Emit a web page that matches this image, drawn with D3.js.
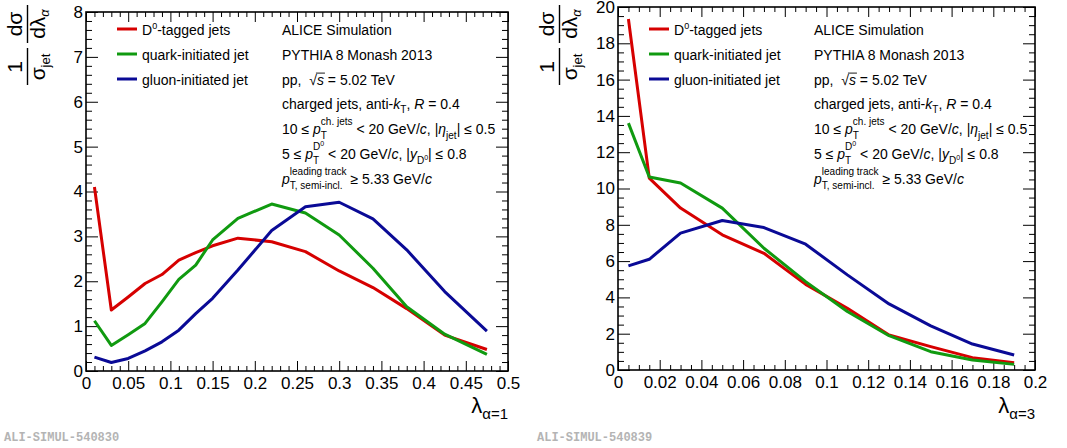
<!DOCTYPE html>
<html>
<head>
<meta charset="utf-8">
<script src="https://cdn.jsdelivr.net/npm/d3@7"></script>
<style>
  body { margin: 0; background: #fff; }
  text { font-family: "Liberation Sans", Arial, Helvetica, sans-serif; fill: #000; white-space: pre; }
</style>
</head>
<body>
<svg id="chart" width="1067" height="448"></svg>
<script>
// lambda(alpha=1) distributions
var lam1Bins = [0.01, 0.03, 0.05, 0.07, 0.09, 0.11, 0.13, 0.15, 0.18, 0.22, 0.26, 0.30, 0.34, 0.38, 0.425, 0.475];
var lam1D0 = [4.10, 1.36, 1.65, 1.95, 2.15, 2.47, 2.64, 2.79, 2.96, 2.88, 2.66, 2.23, 1.86, 1.39, 0.80, 0.48];
var lam1Quark = [1.12, 0.57, 0.81, 1.06, 1.54, 2.04, 2.36, 2.92, 3.40, 3.72, 3.52, 3.03, 2.29, 1.43, 0.82, 0.37];
var lam1Gluon = [0.31, 0.19, 0.28, 0.45, 0.65, 0.91, 1.28, 1.62, 2.25, 3.13, 3.66, 3.76, 3.39, 2.70, 1.77, 0.89];

// lambda(alpha=3) distributions
var lam3Bins = [0.005, 0.015, 0.03, 0.05, 0.07, 0.09, 0.11, 0.13, 0.15, 0.17, 0.19];
var lam3D0 = [19.34, 10.57, 8.92, 7.45, 6.43, 4.72, 3.40, 1.93, 1.29, 0.68, 0.40];
var lam3Quark = [13.6, 10.63, 10.3, 8.92, 6.71, 4.87, 3.22, 1.89, 1.01, 0.55, 0.31];
var lam3Gluon = [5.74, 6.10, 7.54, 8.24, 7.85, 6.93, 5.24, 3.64, 2.43, 1.43, 0.83];

var lam1XTicks = [0, 0.05, 0.1, 0.15, 0.2, 0.25, 0.3, 0.35, 0.4, 0.45, 0.5];
var lam1YTicks = [0, 1, 2, 3, 4, 5, 6, 7, 8];
var lam3XTicks = [0, 0.02, 0.04, 0.06, 0.08, 0.1, 0.12, 0.14, 0.16, 0.18, 0.2];
var lam3YTicks = [0, 2, 4, 6, 8, 10, 12, 14, 16, 18, 20];

var seriesColors = ['#d60000', '#109a10', '#0a0a96'];
var watermarks = ['ALI-SIMUL-540830', 'ALI-SIMUL-540839'];

var svg = d3.select('#chart');

drawPanel({
  left: 86, right: 508, top: 12, bottom: 371,
  xTicks: lam1XTicks, xMinor: 0.01, yTicks: lam1YTicks, yMinor: 0.2,
  bins: lam1Bins, series: [lam1D0, lam1Quark, lam1Gluon],
  xSub: 'α=1', mark: watermarks[0], markX: 4
});

drawPanel({
  left: 618, right: 1035, top: 7, bottom: 370,
  xTicks: lam3XTicks, xMinor: 0.005, yTicks: lam3YTicks, yMinor: 0.5,
  bins: lam3Bins, series: [lam3D0, lam3Quark, lam3Gluon],
  xSub: 'α=3', mark: watermarks[1], markX: 537
});

function drawPanel(p) {
  var xDom = d3.extent(p.xTicks);
  var yDom = d3.extent(p.yTicks);
  var x = d3.scaleLinear().domain(xDom).range([p.left, p.right]);
  var y = d3.scaleLinear().domain(yDom).range([p.bottom, p.top]);
  var g = svg.append('g');

  var xMinor = minorTicks(xDom, p.xMinor, p.xTicks);
  var yMinor = minorTicks(yDom, p.yMinor, p.yTicks);

  // ticks on all four sides, pointing inward (ROOT style)
  axis(g, d3.axisBottom(x).tickValues(xMinor).tickSize(-5).tickFormat(''), 0, p.bottom);
  axis(g, d3.axisTop(x).tickValues(xMinor).tickSize(-5).tickFormat(''), 0, p.top);
  axis(g, d3.axisTop(x).tickValues(p.xTicks).tickSize(-10).tickFormat(''), 0, p.top);
  axis(g, d3.axisLeft(y).tickValues(yMinor).tickSize(-6).tickFormat(''), p.left, 0);
  axis(g, d3.axisRight(y).tickValues(yMinor).tickSize(-6).tickFormat(''), p.right, 0);
  axis(g, d3.axisRight(y).tickValues(p.yTicks).tickSize(-12).tickFormat(''), p.right, 0);

  var xa = axis(g, d3.axisBottom(x).tickValues(p.xTicks).tickSize(-10).tickPadding(6)
    .tickFormat(function(d) { return String(+d.toFixed(3)); }), 0, p.bottom);
  var ya = axis(g, d3.axisLeft(y).tickValues(p.yTicks).tickSize(-12).tickPadding(3)
    .tickFormat(function(d) { return String(d); }), p.left, 0);
  xa.selectAll('text').style('font-size', '17px');
  ya.selectAll('text').style('font-size', '17px');

  g.append('rect')
    .attr('x', p.left).attr('y', p.top)
    .attr('width', p.right - p.left).attr('height', p.bottom - p.top)
    .attr('fill', 'none').attr('stroke', '#000').attr('stroke-width', 1.6);

  var line = d3.line()
    .x(function(d, i) { return x(p.bins[i]); })
    .y(function(d) { return y(d); });

  p.series.forEach(function(s, i) {
    g.append('path')
      .attr('d', line(s))
      .attr('fill', 'none')
      .attr('stroke', seriesColors[i])
      .attr('stroke-width', 3)
      .attr('stroke-linejoin', 'round');
  });

  // legend
  var legendItems = [
    [{t: 'D'}, {t: '0', s: 9, dy: -6}, {t: '-tagged jets'}],
    [{t: 'quark-initiated jet'}],
    [{t: 'gluon-initiated jet'}]
  ];
  legendItems.forEach(function(items, i) {
    var ly = 29 + 25 * i;
    g.append('line')
      .attr('x1', p.left + 31).attr('x2', p.left + 51)
      .attr('y1', ly).attr('y2', ly)
      .attr('stroke', seriesColors[i]).attr('stroke-width', 3);
    richText(g, p.left + 56, ly + 6, items);
  });

  // annotation block
  var tx = p.left + 196;
  var lines = [
    [{t: 'ALICE Simulation'}],
    [{t: 'PYTHIA 8 Monash 2013'}],
    [{t: 'pp,  '}, {t: '√'}, {t: 's', i: true, over: true}, {t: ' = 5.02 TeV'}],
    [{t: 'charged jets, anti-'}, {t: 'k', i: true}, {t: 'T', s: 10, dy: 4}, {t: ', '}, {t: 'R', i: true}, {t: ' = 0.4'}],
    [{t: '10 ≤ '}, {t: 'p', i: true},
      {stack: [[{t: 'ch. jets', s: 10, dy: -9}], [{t: 'T', s: 10, dy: 5}]]},
      {t: ' < 20 GeV/'}, {t: 'c', i: true}, {t: ', |'}, {t: 'η', i: true}, {t: 'jet', s: 10, dy: 5},
      {t: '| ≤ 0.5'}],
    [{t: '5 ≤ '}, {t: 'p', i: true},
      {stack: [[{t: 'D', s: 10, dy: -9}, {t: '0', s: 7, dy: -13}], [{t: 'T', s: 10, dy: 5}]]},
      {t: ' < 20 GeV/'}, {t: 'c', i: true}, {t: ', |'}, {t: 'y', i: true},
      {t: 'D', s: 10, dy: 5}, {t: '0', s: 7, dy: 1}, {t: '| ≤ 0.8'}],
    [{t: 'p', i: true},
      {stack: [[{t: 'leading track', s: 10, dy: -9}], [{t: 'T, semi-incl.', s: 10, dy: 5}]]},
      {t: ' ≥ 5.33 GeV/'}, {t: 'c', i: true}]
  ];
  lines.forEach(function(items, i) {
    richText(g, tx, 35 + 24.8 * i, items);
  });

  // x title
  var xt = g.append('text')
    .attr('x', p.right).attr('y', 413)
    .attr('text-anchor', 'end');
  xt.append('tspan').style('font-size', '22px').text('λ');
  xt.append('tspan').style('font-size', '15px').attr('dy', 6).text(p.xSub);

  drawYTitle(g, p.left - 86);

  g.append('text')
    .attr('x', p.markX).attr('y', 441)
    .style('font-family', '"Liberation Mono", "DejaVu Sans Mono", monospace')
    .style('font-weight', 'bold')
    .style('font-size', '12px')
    .style('fill', '#b4b4b4')
    .text(p.mark);
}

function drawYTitle(g, dx) {
  var t = g.append('g').attr('transform', 'translate(' + dx + ',88) rotate(-90)');
  t.append('text').attr('x', 21).attr('y', 22).attr('text-anchor', 'middle')
    .style('font-size', '21px').text('1');
  t.append('line').attr('x1', 3).attr('x2', 40).attr('y1', 27.5).attr('y2', 27.5)
    .attr('stroke', '#000').attr('stroke-width', 1.4);
  var den = t.append('text').attr('x', 21).attr('y', 45).attr('text-anchor', 'middle');
  den.append('tspan').style('font-size', '21px').text('σ');
  den.append('tspan').style('font-size', '13px').attr('dy', 5).text('jet');

  t.append('text').attr('x', 64).attr('y', 22).attr('text-anchor', 'middle')
    .style('font-size', '21px').text('dσ');
  t.append('line').attr('x1', 45).attr('x2', 83).attr('y1', 27.5).attr('y2', 27.5)
    .attr('stroke', '#000').attr('stroke-width', 1.4);
  var den2 = t.append('text').attr('x', 64).attr('y', 45).attr('text-anchor', 'middle');
  den2.append('tspan').style('font-size', '21px').text('dλ');
  den2.append('tspan').style('font-size', '13px').style('font-style', 'italic').attr('dy', 4).text('α');
}

function axis(g, ax, tx, ty) {
  var a = g.append('g').attr('transform', 'translate(' + tx + ',' + ty + ')').call(ax);
  a.select('.domain').remove();
  a.selectAll('.tick line').attr('stroke', '#000').attr('stroke-width', 1);
  a.selectAll('text').attr('fill', '#000').style('font-family', '"Liberation Sans", Arial, sans-serif');
  return a;
}

function minorTicks(dom, step, majors) {
  var out = [];
  var n = Math.round((dom[1] - dom[0]) / step);
  for (var i = 0; i <= n; i++) {
    var v = dom[0] + i * step;
    var isMajor = majors.some(function(m) { return Math.abs(m - v) < step * 1e-3; });
    if (!isMajor) out.push(v);
  }
  return out;
}

function richText(g, x, y, items) {
  var cx = x;
  items.forEach(function(it) {
    if (it.stack) {
      var w = 0;
      it.stack.forEach(function(row) {
        w = Math.max(w, richText(g, cx, y, row) - cx);
      });
      cx += w;
      return;
    }
    var t = g.append('text')
      .attr('x', cx).attr('y', y + (it.dy || 0))
      .attr('xml:space', 'preserve')
      .style('font-size', (it.s || 14) + 'px')
      .style('font-style', it.i ? 'italic' : null)
      .text(it.t);
    var w = t.node().getComputedTextLength();
    if (it.over) {
      g.append('line')
        .attr('x1', cx - 1).attr('x2', cx + w + 1)
        .attr('y1', y - 11.5).attr('y2', y - 11.5)
        .attr('stroke', '#000').attr('stroke-width', 0.9);
    }
    cx += w;
  });
  return cx;
}
</script>
</body>
</html>
